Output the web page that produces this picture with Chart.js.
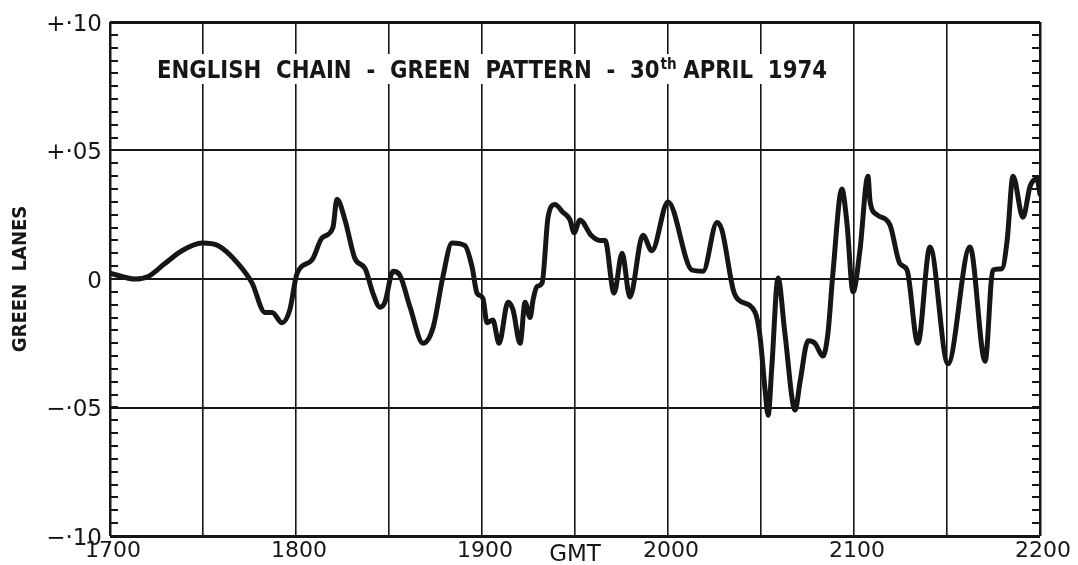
<!DOCTYPE html>
<html>
<head>
<meta charset="utf-8">
<script src="https://cdn.jsdelivr.net/npm/chart.js@4.4.1/dist/chart.umd.min.js"></script>
<style>
  html, body { margin: 0; padding: 0; background: #fff; }
</style>
</head>
<body>
<canvas id="greenChart" width="1078" height="565"></canvas>
<script>
// minutes after 1700 GMT
const minutes = [0, 8.1, 12.3, 17.7, 23.2, 29.7, 34.8, 41.3, 45.8, 50,
  52.3, 55.5, 58, 60.3, 65.2, 68.4, 71.9, 73.2, 75.8, 79,
  82.3, 84.8, 87.1, 88.7, 91.3, 93.5, 96.8, 101, 104.2, 107.4,
  110.3, 114.5, 116.8, 118.4, 120.3, 121.6, 123.5, 125.5, 128.4, 130,
  132.3, 133.9, 135.5, 136.5, 137.7, 139.4, 141.3, 143.5, 146.1, 148.4,
  149.7, 151.6, 155.2, 158.1, 159.7, 162.6, 165.2, 167.7, 171.9, 174.8,
  180, 187.7, 191.3, 195.8, 197.4, 201, 202.6, 208.1, 209.7, 211.3,
  212.3, 213.5, 215.5, 217.7, 221, 222.6, 225.2, 227.4, 230, 231.6,
  233.2, 236.1, 237.7, 239.7, 241.9, 244.5, 245.2, 247.4, 251.6, 254.8,
  257.1, 260.6, 264.5, 270.3, 277.4, 282.3, 284.8, 287.7, 289.4, 291.3,
  294.5, 296.8, 299, 300];

// green lanes
const greenLanes = [0.0023, 0, 0.001, 0.006, 0.011, 0.014, 0.013, 0.006, -0.0015, -0.013,
  -0.013, -0.017, -0.012, 0.002, 0.0075, 0.016, 0.020, 0.031, 0.023, 0.008,
  0.004, -0.0055, -0.011, -0.009, 0.003, 0.0015, -0.011, -0.025, -0.019, 0.001,
  0.014, 0.013, 0.0047, -0.0055, -0.0075, -0.017, -0.016, -0.025, -0.009, -0.012,
  -0.025, -0.009, -0.015, -0.008, -0.003, -0.0015, 0.024, 0.029, 0.026, 0.023,
  0.018, 0.023, 0.017, 0.015, 0.015, -0.0055, 0.010, -0.007, 0.017, 0.011,
  0.030, 0.0035, 0.003, 0.022, 0.019, -0.004, -0.008, -0.013, -0.0225, -0.043,
  -0.053, -0.034, 0.0004, -0.021, -0.051, -0.040, -0.024, -0.025, -0.030, -0.021,
  0.0023, 0.035, 0.022, -0.005, 0.011, 0.040, 0.030, 0.025, 0.021, 0.006,
  0.0035, -0.025, 0.0125, -0.033, 0.0125, -0.032, 0.0035, 0.004, 0.015, 0.040,
  0.024, 0.036, 0.039, 0.033];

const hourLabels = ['1700', '1800', '1900', '2000', '2100', '2200'];
const laneLabels = ['\u2212\u00b710', '\u2212\u00b705', '0', '+\u00b705', '+\u00b710'];
const minorStep = 0.005;

const ink = '#161616';

// little inward ticks on both sides + the heading inside the frame
const extras = {
  id: 'extras',
  afterDraw(chart) {
    const { ctx, chartArea, scales } = chart;
    const y = scales.y;
    ctx.save();
    ctx.strokeStyle = ink;
    ctx.lineWidth = 2;
    for (let v = y.min; v <= y.max + 1e-9; v += minorStep) {
      const py = Math.round(y.getPixelForValue(v));
      ctx.beginPath();
      ctx.moveTo(chartArea.left, py);
      ctx.lineTo(chartArea.left + 8, py);
      ctx.moveTo(chartArea.right, py);
      ctx.lineTo(chartArea.right - 8, py);
      ctx.stroke();
    }

    // heading
    const bigFont = 'bold 25px "DejaVu Sans Condensed"';
    const smallFont = 'bold 16px "DejaVu Sans Condensed"';
    const partA = 'ENGLISH  CHAIN  -  GREEN  PATTERN  -  30';
    const partB = 'th';
    const partC = ' APRIL  1974';
    ctx.font = bigFont;
    const wA = ctx.measureText(partA).width;
    const wC = ctx.measureText(partC).width;
    ctx.font = smallFont;
    const wB = ctx.measureText(partB).width;
    const total = wA + wB + wC;
    const x0 = 157, x1 = 827, base = 78;
    const sx = (x1 - x0) / total;
    ctx.fillStyle = '#fff';
    ctx.fillRect(x0 - 4, base - 24, x1 - x0 + 8, 30);
    ctx.translate(x0, base);
    ctx.scale(sx, 1);
    ctx.fillStyle = ink;
    ctx.textBaseline = 'alphabetic';
    ctx.font = bigFont;
    ctx.fillText(partA, 0, 0);
    ctx.font = smallFont;
    ctx.fillText(partB, wA + 1, -9);
    ctx.font = bigFont;
    ctx.fillText(partC, wA + wB, 0);
    ctx.restore();
  }
};

const ctx = document.getElementById('greenChart');

new Chart(ctx, {
  type: 'line',
  data: {
    datasets: [{
      data: minutes.map((m, i) => ({ x: m, y: greenLanes[i] })),
      borderColor: ink,
      borderWidth: 5,
      pointRadius: 0,
      cubicInterpolationMode: 'monotone',
      borderJoinStyle: 'round',
      borderCapStyle: 'round',
      fill: false
    }]
  },
  options: {
    responsive: false,
    animation: false,
    devicePixelRatio: 1,
    layout: { padding: { top: 22, right: 38, left: 0, bottom: 0 } },
    plugins: {
      legend: { display: false },
      tooltip: { enabled: false }
    },
    scales: {
      x: {
        type: 'linear',
        min: 0,
        max: 300,
        afterFit: (scale) => { scale.height = 29; },
        ticks: {
          stepSize: 30,
          autoSkip: false,
          maxRotation: 0,
          padding: 2,
          labelOffset: 3,
          color: ink,
          font: { family: 'DejaVu Sans', size: 22 },
          callback: (value, index) => (index % 2 === 0 ? hourLabels[index / 2] : '')
        },
        grid: {
          color: ink,
          lineWidth: (c) => (c.index === 0 || c.index === 10 ? 2.5 : 1.6),
          drawTicks: false
        },
        border: { display: false },
        title: {
          display: true,
          text: 'GMT',
          color: ink,
          font: { family: 'DejaVu Sans', size: 23 },
          padding: { top: -24, bottom: -4 }
        }
      },
      y: {
        min: -0.1,
        max: 0.1,
        afterFit: (scale) => { scale.width = 110; },
        ticks: {
          stepSize: 0.05,
          padding: 8,
          labelOffset: 3,
          color: ink,
          font: { family: 'DejaVu Sans', size: 23 },
          callback: (value, index) => laneLabels[index]
        },
        grid: {
          color: ink,
          lineWidth: (c) => (c.index === 0 || c.index === 4 ? 3 : 2),
          drawTicks: false
        },
        border: { display: false },
        title: {
          display: true,
          text: 'GREEN  LANES',
          color: ink,
          font: { family: 'DejaVu Sans Condensed', size: 20, weight: 'bold' },
          padding: { top: 9, bottom: 0 }
        }
      }
    }
  },
  plugins: [extras]
});
</script>
</body>
</html>
